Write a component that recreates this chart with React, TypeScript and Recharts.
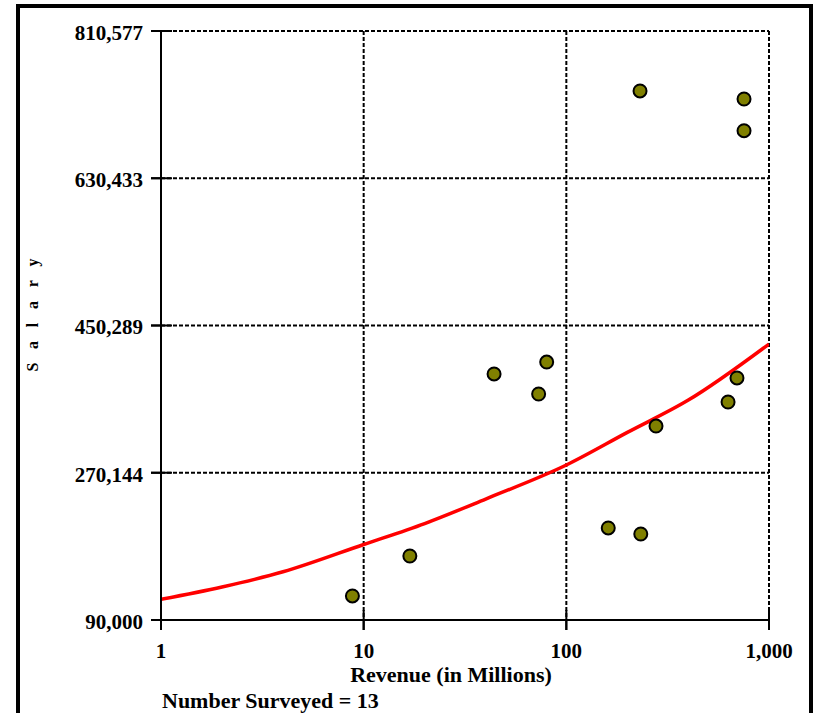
import { ComposedChart, Scatter, Line, XAxis, YAxis, CartesianGrid, Label } from 'recharts';

// survey points: revenue (millions) vs salary
const revenue = [8.8, 16.9, 44, 73, 80, 161, 233, 277, 628, 695, 231, 753, 753];
const salary = [119400, 168300, 391000, 366500, 405600, 202600, 195200, 327300, 356700, 386100, 737200, 727400, 688600];

// fitted trend curve
const trendRevenue = [1, 2, 4, 10, 20, 40, 100, 200, 400, 1000];
const trendSalary = [115300, 130400, 149000, 182400, 208000, 238000, 279600, 319500, 359000, 427600];

const xTicks = [1, 10, 100, 1000];
const yTicks = [90000, 270144, 450289, 630433, 810577];
const surveyed = 13;

const points = revenue.map((x, i) => ({ x, y: salary[i] }));
const trend = trendRevenue.map((x, i) => ({ x, y: trendSalary[i] }));

const FONT = '"Liberation Serif", "Times New Roman", serif';
const fmt = (v: number) => v.toLocaleString('en-US');

// ticks cross the axis line, so the whole tick mark is drawn here
function YTick(props: any) {
  const x = Number(props.x);
  const y = Number(props.y);
  return (
    <g>
      <rect x={x + 8} y={y - 1} width={21} height={2} fill="#000" />
      <text x={x} y={y + 9} textAnchor="end" fontFamily={FONT} fontWeight="bold" fontSize={21} fill="#000">
        {fmt(props.payload.value)}
      </text>
    </g>
  );
}

function XTick(props: any) {
  const x = Number(props.x);
  const y = Number(props.y);
  return (
    <g>
      <rect x={x - 1} y={y - 20} width={2} height={20} fill="#000" />
      <text x={x} y={y + 28} textAnchor="middle" fontFamily={FONT} fontWeight="bold" fontSize={21} fill="#000">
        {fmt(props.payload.value)}
      </text>
    </g>
  );
}

export default function App() {
  return (
    <div style={{ position: 'absolute', left: 0, top: 0, width: 815, height: 713, overflow: 'hidden', background: '#fff' }}>
      <div
        style={{
          position: 'absolute',
          left: 16,
          top: 4,
          width: 797,
          height: 760,
          border: '4px solid #000',
          boxSizing: 'border-box',
        }}
      />
      <div style={{ position: 'absolute', left: 0, top: 0 }}>
        <ComposedChart width={815} height={713} margin={{ top: 31, right: 46, bottom: 33, left: 20 }}>
          <CartesianGrid stroke="#000" strokeWidth={2} strokeDasharray="4 2" />
          <XAxis
            type="number"
            dataKey="x"
            scale="log"
            domain={[1, 1000]}
            ticks={xTicks}
            interval={0}
            allowDataOverflow
            height={60}
            tickSize={10}
            tickMargin={0}
            tickLine={{ stroke: '#000', strokeWidth: 2 }}
            tick={<XTick />}
            axisLine={{ stroke: '#000', strokeWidth: 2 }}
          >
            <Label
              content={(p: any) => {
                const vb = p.viewBox;
                return (
                  <text x={vb.x + vb.width / 2 - 14} y={vb.y + 62} textAnchor="middle" fontFamily={FONT} fontWeight="bold" fontSize={22} fill="#000">
                    Revenue (in Millions)
                  </text>
                );
              }}
            />
            <Label
              content={(p: any) => {
                const vb = p.viewBox;
                return (
                  <text x={vb.x + 1} y={vb.y + 88} textAnchor="start" fontFamily={FONT} fontWeight="bold" fontSize={22} fill="#000">
                    {`Number Surveyed = ${surveyed}`}
                  </text>
                );
              }}
            />
          </XAxis>
          <YAxis
            type="number"
            dataKey="y"
            domain={[90000, 810577]}
            ticks={yTicks}
            interval={0}
            width={141}
            tickSize={10}
            tickMargin={8}
            tickLine={{ stroke: '#000', strokeWidth: 2 }}
            tick={<YTick />}
            axisLine={{ stroke: '#000', strokeWidth: 2 }}
          >
            <Label
              content={(p: any) => {
                const vb = p.viewBox;
                const cy = vb.y + vb.height / 2;
                return (
                  <text
                    transform={`translate(38, ${cy + 46}) rotate(-90)`}
                    textAnchor="start"
                    fontFamily={FONT}
                    fontWeight="bold"
                    fontSize={16}
                    fill="#000"
                    style={{ letterSpacing: '13.7px' }}
                  >
                    Salary
                  </text>
                );
              }}
            />
          </YAxis>
          <Scatter
            data={points}
            isAnimationActive={false}
            shape={(props: any) => (
              <circle cx={props.cx} cy={props.cy} r={6.5} fill="#808000" stroke="#000" strokeWidth={2} />
            )}
          />
          <Line
            data={trend}
            dataKey="y"
            type="monotone"
            stroke="#ff0000"
            strokeWidth={3.5}
            dot={false}
            activeDot={false}
            isAnimationActive={false}
          />
        </ComposedChart>
      </div>
    </div>
  );
}
